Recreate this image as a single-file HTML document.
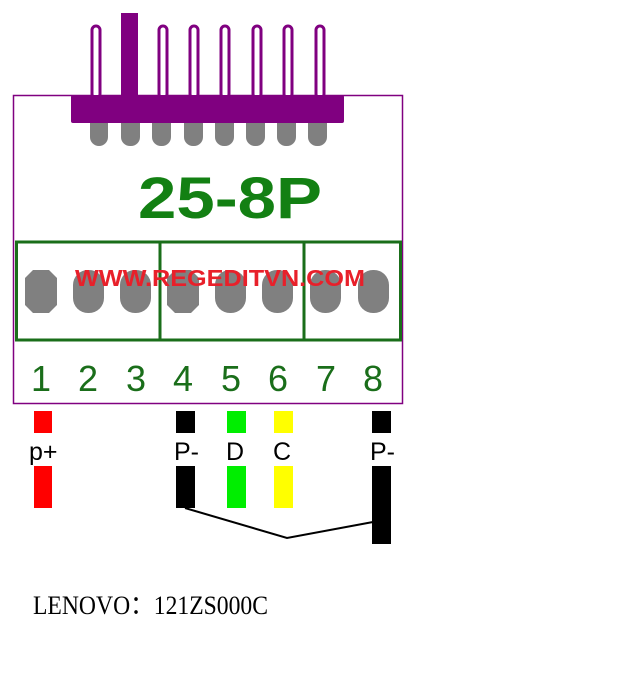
<!DOCTYPE html>
<html><head><style>
html,body{margin:0;padding:0;background:#fff;}
svg{display:block;}
</style></head><body>
<svg width="640" height="677" viewBox="0 0 640 677" xmlns="http://www.w3.org/2000/svg">
<rect x="13.5" y="95.5" width="389" height="308" fill="none" stroke="#800080" stroke-width="1.5"/>
<g fill="#fff" stroke="#800080" stroke-width="3">
<rect x="92" y="26" width="8" height="72" rx="4"/>
<rect x="159" y="26" width="8" height="72" rx="4"/>
<rect x="190" y="26" width="8" height="72" rx="4"/>
<rect x="221" y="26" width="8" height="72" rx="4"/>
<rect x="253" y="26" width="8" height="72" rx="4"/>
<rect x="284" y="26" width="8" height="72" rx="4"/>
<rect x="316" y="26" width="8" height="72" rx="4"/>
</g>
<rect x="121" y="13" width="17" height="85" fill="#800080"/>
<g fill="#808080">
<rect x="90" y="110" width="18" height="36" rx="9"/>
<rect x="121" y="110" width="19" height="36" rx="9"/>
<rect x="152" y="110" width="19" height="36" rx="9"/>
<rect x="184" y="110" width="19" height="36" rx="9"/>
<rect x="215" y="110" width="19" height="36" rx="9"/>
<rect x="246" y="110" width="19" height="36" rx="9"/>
<rect x="277" y="110" width="19" height="36" rx="9"/>
<rect x="308" y="110" width="19" height="36" rx="9"/>
</g>
<rect x="71" y="95" width="273" height="28" rx="2" fill="#800080"/>
<text x="230" y="218" text-anchor="middle" font-family="Liberation Sans, sans-serif" font-size="58" font-weight="bold" fill="#138013" textLength="184" lengthAdjust="spacingAndGlyphs">25-8P</text>
<g fill="none" stroke="#1a6e1a" stroke-width="3">
<rect x="16.5" y="242" width="384" height="98"/>
<line x1="160" y1="242" x2="160" y2="340"/>
<line x1="304" y1="242" x2="304" y2="340"/>
</g>
<g fill="#808080">
<path d="M33 270 h16 l8 8 v27 l-8 8 h-16 l-8 -8 v-27 z"/>
<rect x="73" y="270" width="31" height="43" rx="15"/>
<rect x="120" y="270" width="31" height="43" rx="15"/>
<path d="M175 270 h16 l8 8 v27 l-8 8 h-16 l-8 -8 v-27 z"/>
<rect x="215" y="270" width="31" height="43" rx="15"/>
<rect x="262" y="270" width="31" height="43" rx="15"/>
<rect x="310" y="270" width="31" height="43" rx="15"/>
<rect x="358" y="270" width="31" height="43" rx="15"/>
</g>
<text x="220" y="286" text-anchor="middle" font-family="Liberation Sans, sans-serif" font-size="23" font-weight="bold" fill="#e8202a" textLength="290" lengthAdjust="spacingAndGlyphs">WWW.REGEDITVN.COM</text>
<g font-family="Liberation Sans, sans-serif" font-size="36" fill="#1a6e1a" text-anchor="middle">
<text x="41" y="391">1</text><text x="88" y="391">2</text><text x="136" y="391">3</text><text x="183" y="391">4</text>
<text x="231" y="391">5</text><text x="278" y="391">6</text><text x="326" y="391">7</text><text x="373" y="391">8</text>
</g>
<rect x="34" y="411" width="18" height="22" fill="#ff0000"/><rect x="34" y="466" width="18" height="42" fill="#ff0000"/>
<rect x="176" y="411" width="19" height="22" fill="#000"/><rect x="176" y="466" width="19" height="42" fill="#000"/>
<rect x="227" y="411" width="19" height="22" fill="#00ee00"/><rect x="227" y="466" width="19" height="42" fill="#00ee00"/>
<rect x="274" y="411" width="19" height="22" fill="#ffff00"/><rect x="274" y="466" width="19" height="42" fill="#ffff00"/>
<rect x="372" y="411" width="19" height="22" fill="#000"/><rect x="372" y="466" width="19" height="78" fill="#000"/>
<polyline points="185,508 287,538 373,522" fill="none" stroke="#000" stroke-width="2"/>
<g font-family="Liberation Sans, sans-serif" font-size="25" fill="#000">
<text x="29" y="460">p+</text>
<text x="174" y="460">P-</text>
<text x="226" y="460">D</text>
<text x="273" y="460">C</text>
<text x="370" y="460">P-</text>
</g>
<text transform="translate(33,614) scale(1,1.3)" x="0" y="0" font-family="Liberation Serif, serif" font-size="20" fill="#000" textLength="235" lengthAdjust="spacingAndGlyphs">LENOVO：121ZS000C</text>
</svg>
</body></html>
